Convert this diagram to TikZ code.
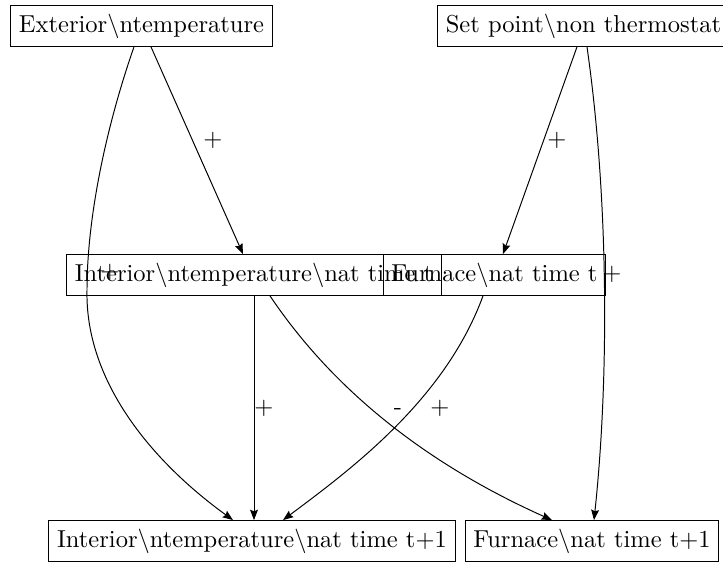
\documentclass[tikz,border=0pt]{standalone}
\usetikzlibrary{calc,arrows.meta}
\begin{document}
\begin{tikzpicture}[x=0.408pt,y=-0.408pt,
  box/.style={draw,inner sep=3.33pt,font=\normalsize},
  arr/.style={-{Stealth[length=4.2pt,width=3.2pt,inset=0.6pt]},line width=0.4pt},
  sign/.style={inner sep=0pt,anchor=base,font=\normalsize}]
\useasboundingbox (0,0) rectangle (723,570);
\node[box] (ext) at (141.5,26) {Exterior\textbackslash ntemperature};
\node[box] (set) at (583.5,26) {Set point\textbackslash non thermostat};
\node[box] (int0) at (254,275) {Interior\textbackslash ntemperature\textbackslash nat time t};
\node[box] (fur0) at (494.5,275) {Furnace\textbackslash nat time t};
\node[box] (int1) at (252,541) {Interior\textbackslash ntemperature\textbackslash nat time t+1};
\node[box] (fur1) at (592,541) {Furnace\textbackslash nat time t+1};
% edges
\draw[arr] ($(ext.south)+(9.5,0)$) -- ($(int0.north)+(-11,0)$);
\draw[arr] ($(ext.south)+(-7.5,0)$) .. controls (105,130) and (87,220) .. (87,290)
  .. controls (85,380) and (150,460) .. ($(int1.north)+(-19,0)$);
\draw[arr] ($(set.south)+(-6.5,0)$) -- ($(fur0.north)+(8.5,0)$);
\draw[arr] ($(set.south)+(3.5,0)$) .. controls (609,200) and (609,380) .. ($(fur1.north)+(2,0)$);
\draw[arr] (int0.south) -- ($(int1.north)+(2,0)$);
\draw[arr] ($(int0.south)+(16,0)$) .. controls (340,400) and (440,470) .. ($(fur1.north)+(-40,0)$);
\draw[arr] ($(fur0.south)+(-11.5,0)$) .. controls (445,400) and (350,470) .. ($(int1.north)+(31,0)$);
% labels
\node[sign] (l1) at (213,147) {+};
\node[sign] (l2) at (110,279) {+};
\node[sign] (l3) at (557,147) {+};
\node[sign] (l4) at (612,281) {+};
\node[sign] (l5) at (264,415) {+};
\node[sign] (l6) at (398,415) {-};
\node[sign] (l7) at (440,415) {+};
\end{tikzpicture}
\end{document}
